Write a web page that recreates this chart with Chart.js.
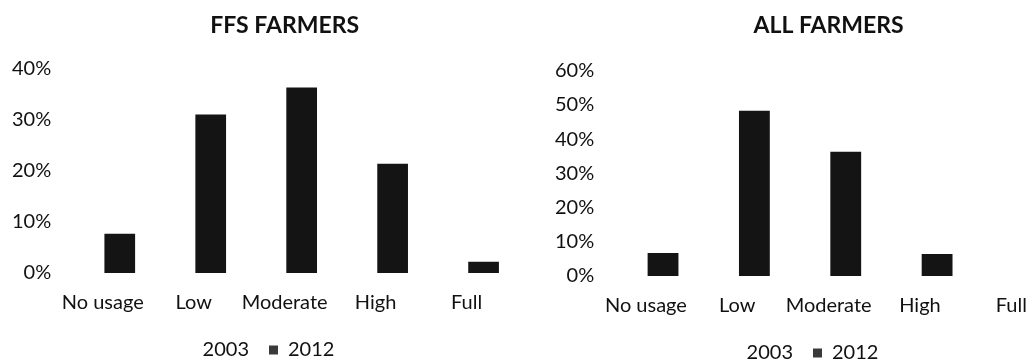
<!DOCTYPE html>
<html>
<head>
<meta charset="utf-8">
<script src="https://cdn.jsdelivr.net/npm/chart.js@4/dist/chart.umd.min.js"></script>
<style>
  html, body { margin: 0; padding: 0; background: #fff; overflow: hidden; }
  body { width: 1029px; height: 360px; position: relative; }
  .box { position: absolute; top: 0; }
  #left { left: 0; width: 528px; height: 370px; }
  #right { left: 530px; width: 540px; height: 373px; }
</style>
</head>
<body>
<div class="box" id="left"><canvas id="ffsChart"></canvas></div>
<div class="box" id="right"><canvas id="allChart"></canvas></div>
<script>
const categories = ["No usage", "Low", "Moderate", "High", "Full"];
const seriesNames = ["2003", "2012"];

// 2003 bars are not visible in the picture (white), so no values for them
const ffs2003 = [null, null, null, null, null];
const ffs2012 = [7.7, 31, 36.3, 21.4, 2.2];

const all2003 = [null, null, null, null, null];
const all2012 = [6.7, 48.3, 36.3, 6.4, 0];

const ffsTicks = { max: 40, step: 10 };
const allTicks = { max: 60, step: 10 };

Chart.defaults.font.family = "Lato, 'Open Sans', sans-serif";
Chart.defaults.color = "#111";

function createData(a, b) {
  return {
    labels: categories,
    datasets: [
      {
        label: seriesNames[0],
        data: a,
        backgroundColor: "#ffffff",
        borderWidth: 0,
        categoryPercentage: 0.75,
        barPercentage: 0.9,
      },
      {
        label: seriesNames[1],
        data: b,
        backgroundColor: "#141414",
        borderWidth: 0,
        categoryPercentage: 0.75,
        barPercentage: 0.9,
      },
    ],
  };
}

function createOptions(title, ticks, pad, titleGap) {
  return {
    responsive: true,
    maintainAspectRatio: false,
    animation: false,
    layout: { padding: pad },
    plugins: {
      title: {
        display: true,
        text: title,
        fullSize: false,
        font: { size: 23, weight: "bold" },
        padding: { top: 12, bottom: titleGap },
      },
      legend: {
        position: "bottom",
        labels: {
          boxWidth: 9,
          boxHeight: 9,
          padding: 20,
          font: { size: 20 },
          generateLabels: function (chart) {
            const items = Chart.defaults.plugins.legend.labels.generateLabels(chart);
            items[0].fillStyle = "#ffffff";
            items[0].lineWidth = 0;
            items[1].fillStyle = "#3a3a3a";
            items[1].lineWidth = 0;
            return items;
          },
        },
      },
      tooltip: { enabled: false },
    },
    scales: {
      x: {
        grid: { display: false, drawTicks: false },
        border: { display: false },
        ticks: { padding: 18, font: { size: 20 }, maxRotation: 0, autoSkip: false },
        afterFit: function (scale) {
          // pull the legend up closer to the category labels
          scale.height -= 13;
        },
      },
      y: {
        min: 0,
        max: ticks.max,
        grid: { display: false, drawTicks: false },
        border: { display: false },
        ticks: {
          stepSize: ticks.step,
          padding: 6,
          font: { size: 20 },
          callback: function (v) { return v + "%"; },
        },
      },
    },
  };
}

function createChart(id, data, options) {
  var ctx = document.getElementById(id).getContext("2d");
  return new Chart(ctx, { type: "bar", data: data, options: options });
}

var chart0 = createChart(
  "ffsChart",
  createData(ffs2003, ffs2012),
  createOptions("FFS FARMERS", ffsTicks, { left: 6, right: 16, top: 0, bottom: 0 }, 29)
);

var chart1 = createChart(
  "allChart",
  createData(all2003, all2012),
  createOptions("ALL FARMERS", allTicks, { left: 19, right: 13, top: 0, bottom: 0 }, 31)
);
</script>
</body>
</html>
